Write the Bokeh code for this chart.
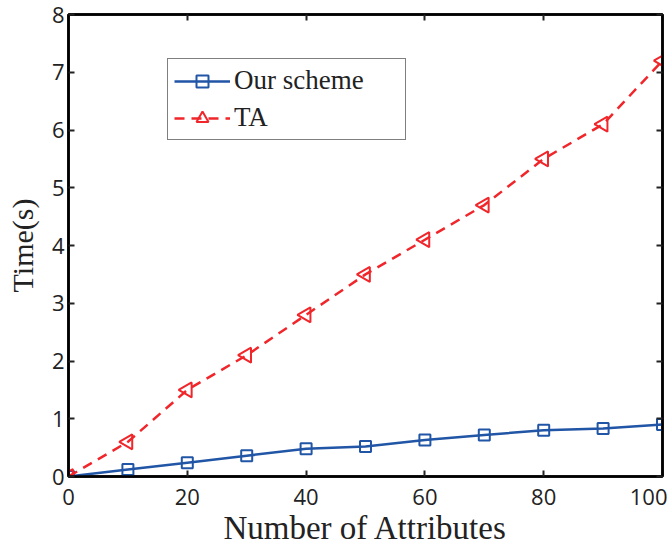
import math
from bokeh.plotting import figure
from bokeh.models import LinearAxis, Legend, LegendItem, FixedTicker, Range1d
from bokeh.embed import file_html
from bokeh.resources import INLINE

attributes = [0, 10, 20, 30, 40, 50, 60, 70, 80, 90, 100]
our_scheme = [0, 0.12, 0.24, 0.36, 0.48, 0.52, 0.63, 0.72, 0.80, 0.83, 0.90]
ta = [0, 0.6, 1.5, 2.1, 2.8, 3.5, 4.1, 4.7, 5.5, 6.1, 7.2]
x_ticks = [0, 20, 40, 60, 80, 100]
y_ticks = [0, 1, 2, 3, 4, 5, 6, 7, 8]

BLUE = "#2155A6"
RED = "#F0262B"
SANS = "Open Sans"
SERIF = "Liberation Serif"

p = figure(width=667, height=548, output_backend="svg", toolbar_location=None,
           x_range=Range1d(0, 100), y_range=Range1d(0, 8),
           min_border_left=68, min_border_right=5, min_border_top=14, min_border_bottom=70,
           background_fill_color="white", border_fill_color="white")
p.grid.visible = False
p.outline_line_color = "black"
p.outline_line_width = 2.5

def style_axis(ax, labels=True):
    ax.axis_line_width = 2.5
    ax.axis_line_color = "black"
    ax.major_tick_in = 6
    ax.major_tick_out = 0
    ax.minor_tick_in = 0
    ax.minor_tick_out = 0
    ax.major_tick_line_width = 2
    ax.major_tick_line_color = "#222222"
    if labels:
        ax.major_label_text_font = SANS
        ax.major_label_text_font_size = "22px"
        ax.major_label_text_color = "#222222"
    else:
        ax.major_label_text_font_size = "0px"
        ax.major_label_standoff = 0

xa = p.xaxis[0]
ya = p.yaxis[0]
xa.ticker = FixedTicker(ticks=x_ticks)
ya.ticker = FixedTicker(ticks=y_ticks)
style_axis(xa)
style_axis(ya)
xa.major_label_standoff = 12
ya.major_label_standoff = 4
xa.axis_label = "Number of Attributes"
ya.axis_label = "Time(s)"
for ax in (xa, ya):
    ax.axis_label_text_font = SERIF
    ax.axis_label_text_font_style = "normal"
    ax.axis_label_text_color = "#222222"
xa.axis_label_text_font_size = "33px"
ya.axis_label_text_font_size = "30px"
xa.axis_label_standoff = 2
ya.axis_label_standoff = 10

top = LinearAxis(ticker=FixedTicker(ticks=x_ticks))
right = LinearAxis(ticker=FixedTicker(ticks=y_ticks))
style_axis(top, labels=False)
style_axis(right, labels=False)
p.add_layout(top, "above")
p.add_layout(right, "right")

r_ours = p.line(attributes, our_scheme, line_color=BLUE, line_width=2.5)
m_ours = p.scatter(attributes, our_scheme, marker="square", size=11,
                   line_color=BLUE, line_width=2, fill_alpha=0)
r_ta = p.line(attributes, ta, line_color=RED, line_width=2.5, line_dash="10 7")
m_ta = p.scatter(attributes, ta, marker="triangle", angle=math.pi / 2, size=15,
                 line_color=RED, line_width=2, fill_alpha=0)

legend = Legend(items=[LegendItem(label="Our scheme", renderers=[r_ours, m_ours]),
                       LegendItem(label="TA", renderers=[r_ta, m_ta])],
                location=(99, 336))
legend.label_text_font = SERIF
legend.label_text_font_size = "27px"
legend.label_text_color = "#222222"
legend.glyph_width = 56
legend.glyph_height = 30
legend.label_height = 30
legend.label_width = 165
legend.spacing = 6
legend.padding = 6
legend.margin = 0
legend.border_line_color = "black"
legend.border_line_width = 1.5
legend.label_standoff = 4
p.add_layout(legend, "center")

open("out.html", "w").write(file_html(p, INLINE))
